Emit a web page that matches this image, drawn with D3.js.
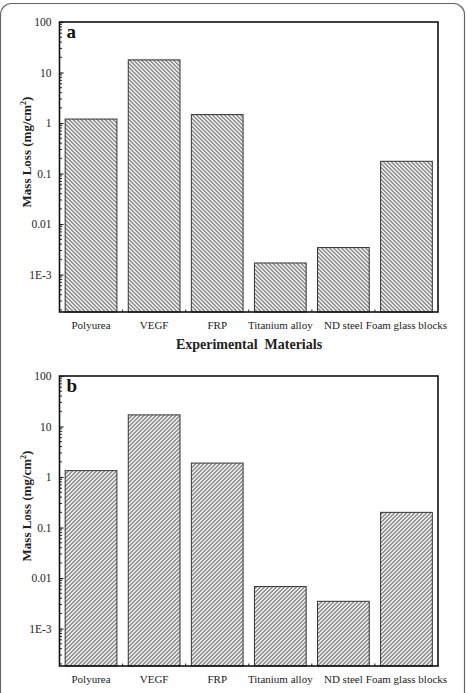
<!DOCTYPE html>
<html>
<head>
<meta charset="utf-8">
<script src="https://cdn.jsdelivr.net/npm/d3@7"></script>
<style>
  body { margin: 0; background: #fff; }
  svg text { font-family: 'Liberation Serif', 'Times New Roman', Times, serif !important; }
</style>
</head>
<body>
<svg id="chart" width="467" height="693"></svg>
<script>
// data
const materials = ['Polyurea', 'VEGF', 'FRP', 'Titanium alloy', 'ND steel', 'Foam glass blocks'];
const lossA = [1.2, 17.8, 1.47, 0.0017, 0.00343, 0.175];
const lossB = [1.34, 17.0, 1.89, 0.0068, 0.00347, 0.2];
const yTickValues = [100, 10, 1, 0.1, 0.01, 0.001];
const yTickLabels = ['100', '10', '1', '0.1', '0.01', '1E-3'];

const svg = d3.select('#chart');
const width = 467, height = 693;

// outer rounded frame
svg.append('rect')
  .attr('x', 0.5).attr('y', 3.5)
  .attr('width', 464).attr('height', 720)
  .attr('rx', 11)
  .attr('fill', 'none')
  .attr('stroke', '#666')
  .attr('stroke-width', 1.2);

// hatch patterns
const defs = svg.append('defs');
function hatch(id, dir) {
  const p = defs.append('pattern')
    .attr('id', id)
    .attr('patternUnits', 'userSpaceOnUse')
    .attr('width', 4).attr('height', 4);
  const d = dir === 'back'
    ? 'M-1,-1 L5,5 M-1,3 L1,5 M3,-1 L5,1'
    : 'M-1,5 L5,-1 M-1,1 L1,-1 M3,5 L5,3';
  p.append('path').attr('d', d)
    .attr('stroke', '#555').attr('stroke-width', 1.1).attr('fill', 'none');
}
hatch('hatchA', 'back');
hatch('hatchB', 'fwd');

const margin = {left: 59.5, right: 29};
const plotW = width - margin.left - margin.right;
const plotH = 290;

function panel(top, values, letter, patternId) {
  const g = svg.append('g').attr('transform', `translate(${margin.left},${top})`);

  const x = d3.scaleBand()
    .domain(materials)
    .range([0, plotW])
    .paddingInner(0.18)
    .paddingOuter(0.09);

  const y = d3.scaleLog()
    .domain([Math.pow(10, -3.74), 100])
    .range([plotH, 0]);

  // bars
  g.selectAll('rect.bar')
    .data(values)
    .join('rect')
    .attr('class', 'bar')
    .attr('x', (d, i) => x(materials[i]))
    .attr('y', d => y(d))
    .attr('width', x.bandwidth())
    .attr('height', d => plotH - y(d))
    .attr('fill', `url(#${patternId})`)
    .attr('stroke', '#333')
    .attr('stroke-width', 1);

  // minor ticks on log axis
  const minor = [];
  for (let e = -4; e < 2; e++) {
    for (let m = 2; m <= 9; m++) {
      const v = m * Math.pow(10, e);
      if (v >= y.domain()[0] && v <= 100) minor.push(v);
    }
  }
  g.selectAll('line.minor')
    .data(minor)
    .join('line')
    .attr('class', 'minor')
    .attr('x1', 0).attr('x2', 2.5)
    .attr('y1', d => y(d)).attr('y2', d => y(d))
    .attr('stroke', '#222').attr('stroke-width', 1);

  // y axis
  const yAxis = d3.axisLeft(y)
    .tickValues(yTickValues)
    .tickFormat((d, i) => yTickLabels[i])
    .tickSizeInner(-4)
    .tickSizeOuter(0)
    .tickPadding(8);
  const ya = g.append('g').call(yAxis).attr('font-family', null);
  ya.select('.domain').remove();
  ya.selectAll('line').attr('stroke', '#222').attr('stroke-width', 1.2);
  ya.selectAll('text')
    .attr('font-size', 11.5)
    .attr('fill', '#222');

  // x axis: labels and short ticks on band boundaries
  const xa = g.append('g').attr('transform', `translate(0,${plotH})`)
    .call(d3.axisBottom(x).tickSize(0).tickPadding(9))
    .attr('font-family', null);
  xa.select('.domain').remove();
  xa.selectAll('text')
    .attr('font-size', 11)
    .attr('fill', '#222');
  const step = x.step();
  g.selectAll('line.xt')
    .data(materials.slice(1))
    .join('line')
    .attr('class', 'xt')
    .attr('x1', d => x(d) - step * 0.09)
    .attr('x2', d => x(d) - step * 0.09)
    .attr('y1', plotH).attr('y2', plotH - 2.5)
    .attr('stroke', '#222').attr('stroke-width', 1);

  // frame
  g.append('rect')
    .attr('width', plotW).attr('height', plotH)
    .attr('fill', 'none')
    .attr('stroke', '#111')
    .attr('stroke-width', 1.6);

  // panel letter
  g.append('text')
    .attr('x', 7).attr('y', 16)
    .attr('font-size', 19)
    .attr('font-weight', 'bold')
    .attr('fill', '#111')
    .text(letter);

  // axis titles
  svg.append('text')
    .attr('transform', `translate(31,${top + plotH / 2 - 15}) rotate(-90)`)
    .attr('text-anchor', 'middle')
    .attr('font-size', 13)
    .attr('font-weight', 'bold')
    .attr('fill', '#222')
    .html('Mass Loss (mg/cm<tspan dy="-5" font-size="8">2</tspan><tspan dy="5">)</tspan>');

  svg.append('text')
    .attr('x', 249).attr('y', top + plotH + 37)
    .attr('text-anchor', 'middle')
    .attr('font-size', 14)
    .attr('font-weight', 'bold')
    .attr('fill', '#222')
    .attr('xml:space', 'preserve')
    .style('white-space', 'pre')
    .text('Experimental  Materials');
}

panel(22, lossA, 'a', 'hatchA');
panel(376, lossB, 'b', 'hatchB');
</script>
</body>
</html>
